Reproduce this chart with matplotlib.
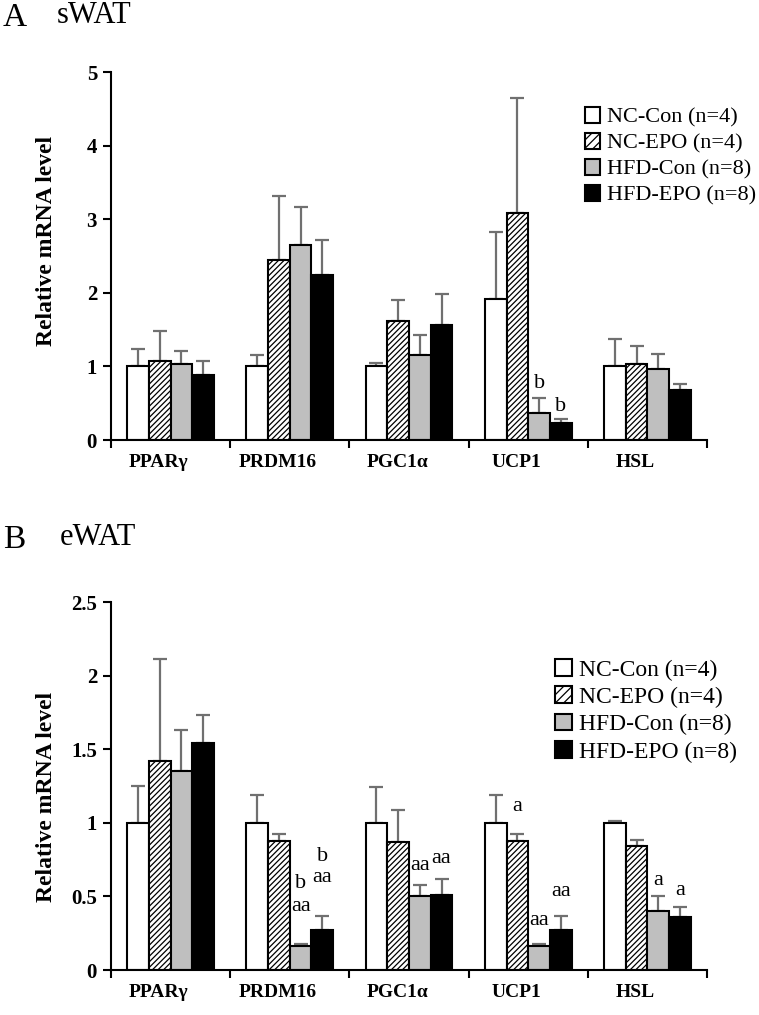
import matplotlib
matplotlib.use("Agg")
import matplotlib.pyplot as plt
import numpy as np
from matplotlib.patches import Patch

plt.rcParams['font.family'] = ['Liberation Serif', 'DejaVu Serif']
plt.rcParams['hatch.linewidth'] = 0.9

genes = ["PPARγ", "PRDM16", "PGC1α", "UCP1", "HSL"]
groups = ["NC-Con (n=4)", "NC-EPO (n=4)", "HFD-Con (n=8)", "HFD-EPO (n=8)"]

# sWAT (panel A): mean values per group across genes
s_nc_con = [1.00, 1.00, 1.00, 1.92, 1.00]
s_nc_epo = [1.07, 2.45, 1.62, 3.08, 1.03]
s_hfd_con = [1.03, 2.65, 1.16, 0.37, 0.96]
s_hfd_epo = [0.88, 2.24, 1.56, 0.23, 0.68]
# error bar top values (mean + SD)
s_nc_con_top = [1.24, 1.16, 1.05, 2.83, 1.37]
s_nc_epo_top = [1.48, 3.31, 1.90, 4.65, 1.28]
s_hfd_con_top = [1.21, 3.17, 1.42, 0.57, 1.17]
s_hfd_epo_top = [1.07, 2.72, 1.98, 0.28, 0.76]

# eWAT (panel B)
e_nc_con = [1.00, 1.00, 1.00, 1.00, 1.00]
e_nc_epo = [1.42, 0.875, 0.87, 0.875, 0.843]
e_hfd_con = [1.35, 0.166, 0.50, 0.166, 0.403]
e_hfd_epo = [1.54, 0.27, 0.508, 0.27, 0.36]
e_nc_con_top = [1.25, 1.19, 1.24, 1.19, 1.01]
e_nc_epo_top = [2.11, 0.925, 1.09, 0.925, 0.884]
e_hfd_con_top = [1.63, 0.18, 0.576, 0.18, 0.505]
e_hfd_epo_top = [1.735, 0.367, 0.62, 0.367, 0.43]

# significance annotations: (gene index, group index, y, text)
s_annot = [(3, 2, 0.77, "b"), (3, 3, 0.45, "b")]
e_annot = [(1, 2, 0.43, "aa"), (1, 2, 0.59, "b"), (1, 3, 0.625, "aa"), (1, 3, 0.77, "b"),
           (2, 2, 0.71, "aa"), (2, 3, 0.755, "aa"),
           (3, 1, 1.11, "a"), (3, 2, 0.335, "aa"), (3, 3, 0.53, "aa"),
           (4, 2, 0.61, "a"), (4, 3, 0.54, "a")]

facecolors = ["white", "white", "#bfbfbf", "black"]
hatches = [None, "//////", None, None]

W, H = 759, 1015
fig = plt.figure(figsize=(W / 100, H / 100), dpi=100)

def px_axes(x0, x1, ytop, ybot):
    return fig.add_axes([x0 / W, 1 - ybot / H, (x1 - x0) / W, (ybot - ytop) / H])

axA = px_axes(111, 707, 72, 440)
axB = px_axes(111, 707, 602, 970)

bw = 0.182
offsets = (np.arange(4) - 1.5) * bw
x = np.arange(len(genes))

def draw(ax, means, tops, ymax, yticks, ticklabels, annots, leg_anchor, leg_fs, ylab_y):
    for g in range(4):
        m = np.array(means[g])
        t = np.array(tops[g])
        ax.bar(x + offsets[g], m, width=bw, color=facecolors[g], edgecolor="black",
               linewidth=1.5, hatch=hatches[g], zorder=2)
        ax.errorbar(x + offsets[g], m, yerr=[np.zeros_like(m), t - m], fmt="none",
                    ecolor="#707070", elinewidth=1.6, capsize=5, capthick=1.6, zorder=1)
    for gi, gr, yv, txt in annots:
        ax.text(gi + offsets[gr], yv, txt, ha="center", va="center", fontsize=16)
    ax.set_xlim(-0.5, len(genes) - 0.5)
    ax.set_ylim(0, ymax)
    ax.set_yticks(yticks)
    ax.set_yticklabels(ticklabels, fontsize=15, fontweight="bold")
    ax.set_xticks(np.arange(len(genes) + 1) - 0.5)
    ax.set_xticklabels([])
    ax.set_xticks(x - 0.1, minor=True)
    ax.set_xticklabels(genes, minor=True, fontsize=14, fontweight="bold")
    ax.tick_params(axis="x", which="minor", length=0, pad=10)
    ax.tick_params(axis="x", which="major", length=6, width=1.5, direction="out")
    ax.tick_params(axis="y", length=6, width=1.5, direction="out", pad=4)
    for s in ["top", "right"]:
        ax.spines[s].set_visible(False)
    for s in ["left", "bottom"]:
        ax.spines[s].set_linewidth(1.5)
    ax.set_ylabel("Relative mRNA level", fontsize=17, fontweight="bold")
    ax.yaxis.set_label_coords(-0.09, ylab_y)
    handles = [Patch(facecolor=facecolors[g], edgecolor="black", linewidth=1.5,
                     hatch=("////" if hatches[g] else None)) for g in range(4)]
    ax.legend(handles, groups, loc="upper left", bbox_to_anchor=leg_anchor, frameon=False,
              fontsize=leg_fs, handlelength=0.7, handleheight=0.7, handletextpad=0.3,
              labelspacing=0.25, borderpad=0, borderaxespad=0)

draw(axA, [s_nc_con, s_nc_epo, s_hfd_con, s_hfd_epo],
     [s_nc_con_top, s_nc_epo_top, s_hfd_con_top, s_hfd_epo_top],
     5, [0, 1, 2, 3, 4, 5], ["0", "1", "2", "3", "4", "5"], s_annot, (0.795, 0.905), 16, 0.54)
draw(axB, [e_nc_con, e_nc_epo, e_hfd_con, e_hfd_epo],
     [e_nc_con_top, e_nc_epo_top, e_hfd_con_top, e_hfd_epo_top],
     2.5, [0, 0.5, 1, 1.5, 2, 2.5], ["0", "0.5", "1", "1.5", "2", "2.5"], e_annot,
     (0.745, 0.845), 17, 0.47)

fig.text(3 / W, 1 - 26 / H, "A", fontsize=24, ha="left", va="baseline")
fig.text(57 / W, 1 - 23 / H, "sWAT", fontsize=22, ha="left", va="baseline")
fig.text(3 / W, 1 - 548 / H, "B", fontsize=24, ha="left", va="baseline")
fig.text(60 / W, 1 - 545 / H, "eWAT", fontsize=22, ha="left", va="baseline")

fig.savefig("out.png", dpi=100)
